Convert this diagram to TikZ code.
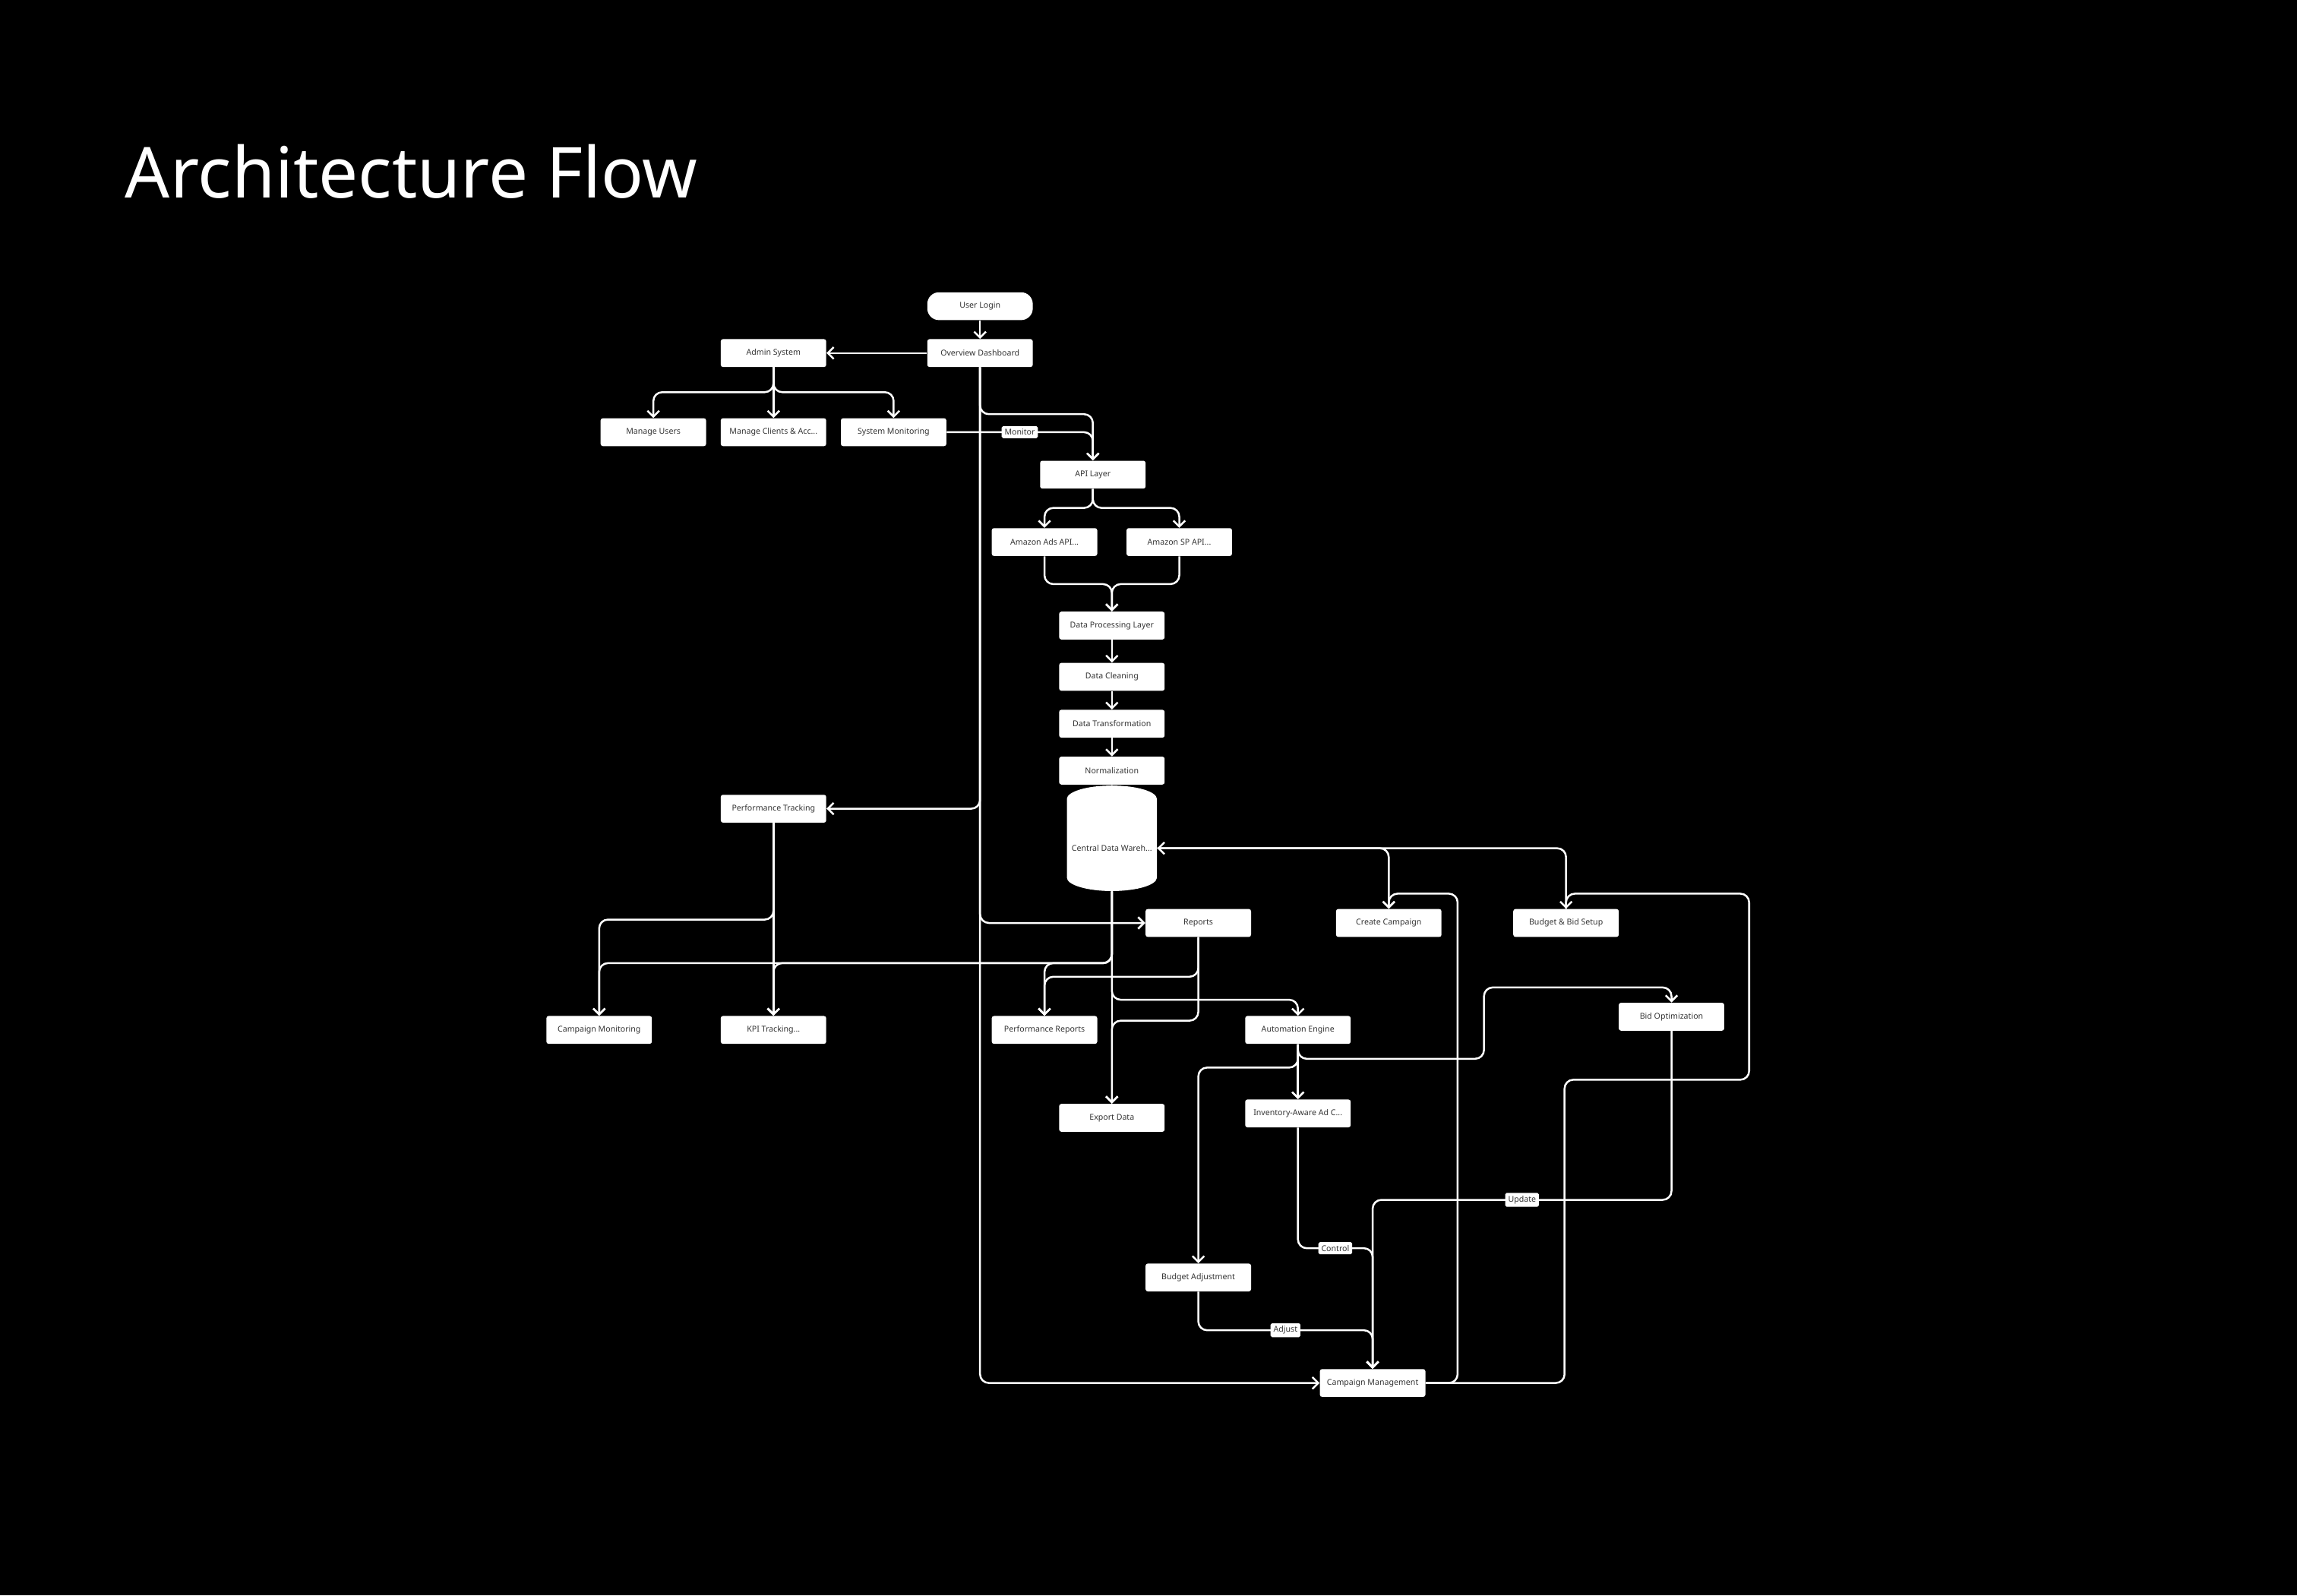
\documentclass[tikz,border=0pt]{standalone}
\usepackage{fontspec}
\setmainfont{Noto Sans}
\usetikzlibrary{arrows.meta,shapes.geometric}
\definecolor{boxtext}{HTML}{333333}
\begin{document}
\begin{tikzpicture}[x=1pt,y=-1pt,
box/.style={%
fill=white,
rounded corners=1.5pt,
minimum width=72pt,
minimum height=19pt,
font=\fontsize{5.5}{6}\selectfont,
text=boxtext
},
lbl/.style={%
fill=white,
rounded corners=1pt,
inner sep=2pt,
font=\fontsize{5.5}{6}\selectfont,
text=boxtext
},
arr/.style={%
draw=white,
line width=1.3pt,
rounded corners=6pt,
-{Straight Barb[length=4pt,width=8pt]}
},
]
\fill[black](0,0)rectangle(1568,1089);
\node[anchor=base west,white,font=\fontsize{48}{48}\selectfont]at(82,135)(title){Architecture Flow};
%% top
\node[box,rounded corners=8pt]at(669,209)(login){User Login};
\node[box]at(669,241)(dash){Overview Dashboard};
\node[box]at(528,241)(admin){Admin System};
\node[box]at(446,295)(mu){Manage Users};
\node[box]at(528,295)(mc){Manage Clients \& Acc...};
\node[box]at(610,295)(sm){System Monitoring};
\node[box]at(746,324)(api){API Layer};
\node[box]at(713,370)(ads){Amazon Ads API...};
\node[box]at(805,370)(sp){Amazon SP API...};
%% data
\node[box]at(759,427)(dpl){Data Processing Layer};
\node[box]at(759,462)(clean){Data Cleaning};
\node[box]at(759,494)(trans){Data Transformation};
\node[box]at(759,526)(norm){Normalization};
\node[box,cylinder,shape border rotate=90,aspect=0.3,minimum width=34pt,minimum height=72pt,
rounded corners=0pt,text depth=-6pt]at(759,579)(wh){Central Data Wareh...};
%% middle
\node[box]at(528,552)(pt){Performance Tracking};
\node[box]at(818,630)(rep){Reports};
\node[box]at(948,630)(cc){Create Campaign};
\node[box]at(1069,630)(bb){Budget \& Bid Setup};
\node[box]at(409,703)(cmon){Campaign Monitoring};
\node[box]at(528,703)(kpi){KPI Tracking...};
\node[box]at(713,703)(pr){Performance Reports};
\node[box]at(886,703)(ae){Automation Engine};
\node[box]at(1141,694)(bo){Bid Optimization};
\node[box]at(759,763)(exp){Export Data};
\node[box]at(886,760)(inv){Inventory-Aware Ad C...};
\node[box]at(818,872)(ba){Budget Adjustment};
\node[box]at(937,944)(cm){Campaign Management};
%% connectors
\draw[arr](login)--(dash);
\draw[arr](dash)--(admin);
\draw[arr](admin.south)--++(0,17)-|(mu.north);
\draw[arr](admin)--(mc);
\draw[arr](admin.south)--++(0,17)-|(sm.north);
\draw[arr](dash.south)--++(0,32)-|(api.north);
\draw[arr](sm.east)-|node[lbl,pos=.25]{Monitor}(api.north);
\draw[arr](api.south)--++(0,13)-|(ads.north);
\draw[arr](api.south)--++(0,13)-|(sp.north);
\draw[arr](ads.south)--++(0,19)-|(dpl.north);
\draw[arr](sp.south)--++(0,19)-|(dpl.north);
\draw[arr](dpl)--(clean);
\draw[arr](clean)--(trans);
\draw[arr](trans)--(norm);
\draw[arr](norm)--(wh);
\draw[arr](dash.south)|-(pt.east);
\draw[arr](dash.south)|-(rep.west);
\draw[arr](dash.south)|-(cm.west);
\draw[arr](pt.south)--++(0,66)-|(cmon.north);
\draw[arr](pt)--(kpi);
\draw[arr](wh.south)--++(0,49)-|(cmon.north);
\draw[arr](wh.south)--++(0,49)-|(kpi.north);
\draw[arr](wh.south)--++(0,49)-|(pr.north);
\draw[arr](wh.south)--(exp.north);
\draw[arr](wh.south)--++(0,74)-|(ae.north);
\draw[arr](rep.south)--++(0,27)-|(pr.north);
\draw[arr](rep.south)--++(0,57)-|(exp.north);
\draw[arr,{Straight Barb[length=4pt,width=8pt]}-](wh.east)-|(bb.north);
\draw[arr](wh.east)-|(cc.north);
\draw[arr](cm.east)-|(995,610)-|(cc.north);
\draw[arr](cm.east)-|(1068,737)-|(1194,610)-|(bb.north);
\draw[arr](ae)--(inv);
\draw[arr](ae.south)--++(0,16)-|(ba.north);
\draw[arr](ae.south)--++(0,10)-|(1013,674)-|(bo.north);
\draw[arr](inv.south)|-node[lbl,pos=.75]{Control}(cm.north|-0,852)--(cm.north);
\draw[arr](bo.south)|-node[lbl,pos=.75]{Update}(cm.north|-0,819)--(cm.north);
\draw[arr](ba.south)|-node[lbl,pos=.75]{Adjust}(cm.north|-0,908)--(cm.north);
\end{tikzpicture}
\end{document}
